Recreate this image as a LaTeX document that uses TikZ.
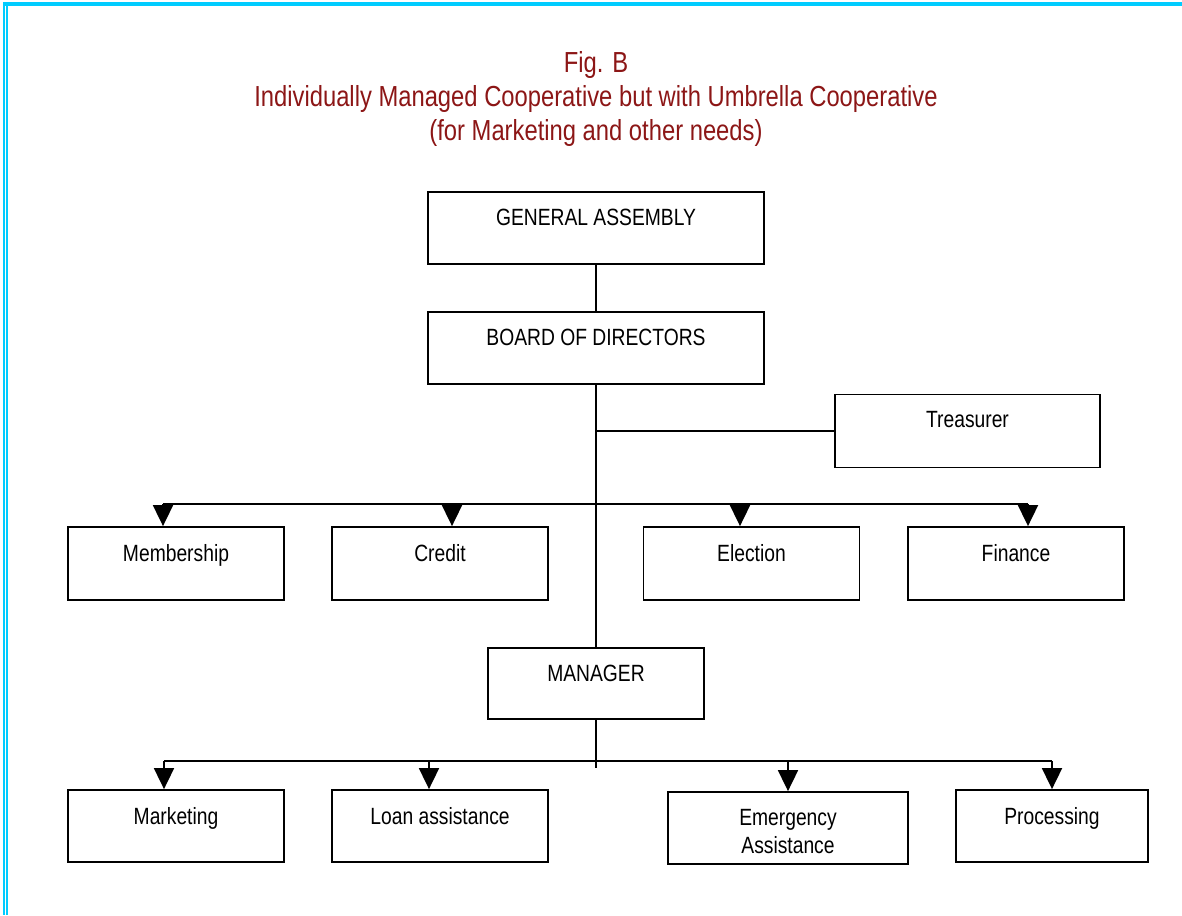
\documentclass[tikz,border=0pt]{standalone}
\usepackage{fontspec}
\setmainfont{Liberation Sans}[FakeStretch=0.82]
\usetikzlibrary{arrows.meta}
\definecolor{rimcyan}{RGB}{0,204,255}
\definecolor{titlered}{RGB}{140,22,22}
\newcommand\chartfont{\fontsize{23.5pt}{28pt}\selectfont}
\newcommand\headfont{\fontsize{29pt}{34pt}\selectfont}
\begin{document}
\begin{tikzpicture}[x=1pt,y=-1pt,
  box/.style={draw, line width=1.8pt, inner sep=0pt, minimum height=72pt, minimum width=216pt},
  lab/.style={anchor=north, yshift=-18pt, inner sep=0pt, align=center, font=\chartfont},
  link/.style={line width=1.8pt},
  arr/.style={link, -{Triangle[width=20pt,length=21pt]}},
  heading/.style={anchor=north, align=center, inner sep=0pt, font=\headfont, text=titlered},
]
\useasboundingbox (0,0) rectangle (1182,915);

% page rim
\fill[rimcyan] (3,2.5) rectangle (1182,6);
\fill[rimcyan] (3,2.5) rectangle (5,915);
\fill[rimcyan] (6,6) rectangle (7.5,915);

% heading
\node[heading] (ttl) at (596,51) {Fig. B\\Individually Managed Cooperative but with Umbrella Cooperative\\(for Marketing and other needs)};

% governing bodies
\node[box, minimum width=336pt, label={[lab]north:GENERAL ASSEMBLY}] (ga) at (596,228) {};
\node[box, minimum width=336pt, label={[lab]north:BOARD OF DIRECTORS}] (bod) at (596,348) {};
\node[box, minimum width=265pt, minimum height=73pt, label={[lab]north:Treasurer}] (tre) at (967.5,431) {};

% committees
\node[box, minimum height=73pt, label={[lab]north:Membership}] (mem) at (176,563.5) {};
\node[box, minimum height=73pt, label={[lab]north:Credit}] (cre) at (440,563.5) {};
\node[box, minimum height=73pt, label={[lab]north:Election}] (ele) at (751.5,563.5) {};
\node[box, minimum height=73pt, label={[lab]north:Finance}] (fin) at (1016,563.5) {};

% management
\node[box, minimum height=71pt, label={[lab]north:MANAGER}] (man) at (596,683.5) {};

% services
\node[box, label={[lab]north:Marketing}] (mkt) at (176,826) {};
\node[box, label={[lab]north:Loan assistance}] (loan) at (440,826) {};
\node[box, minimum width=240pt, label={[lab]north:{Emergency\\Assistance}}] (emg) at (788,828) {};
\node[box, minimum width=192pt, label={[lab]north:Processing}] (proc) at (1052,826) {};

% trunk
\draw[link] (ga.south) -- (bod.north);
\draw[link] (bod.south) -- (man.north);
\draw[link] (bod.south |- tre.west) -- (tre.west);

% committee bus
\coordinate (t1) at (163,504);
\coordinate (t2) at (452,504);
\coordinate (t3) at (740,504);
\coordinate (t4) at (1028,504);
\draw[link] (t1) -- (t4);
\draw[arr] (t1) -- (t1 |- mem.north);
\draw[arr] (t2) -- (t2 |- cre.north);
\draw[arr] (t3) -- (t3 |- ele.north);
\draw[arr] (t4) -- (t4 |- fin.north);

% service bus
\coordinate (m0) at (596,768);
\coordinate (b1) at (164,761);
\coordinate (b2) at (429,761);
\coordinate (b3) at (788,761);
\coordinate (b4) at (1052,761);
\draw[link] (man.south) -- (m0);
\draw[link] (b1) -- (b4);
\draw[arr] (b1) -- (b1 |- mkt.north);
\draw[arr] (b2) -- (b2 |- loan.north);
\draw[arr] (b3) -- (b3 |- emg.north);
\draw[arr] (b4) -- (b4 |- proc.north);
\end{tikzpicture}
\end{document}
